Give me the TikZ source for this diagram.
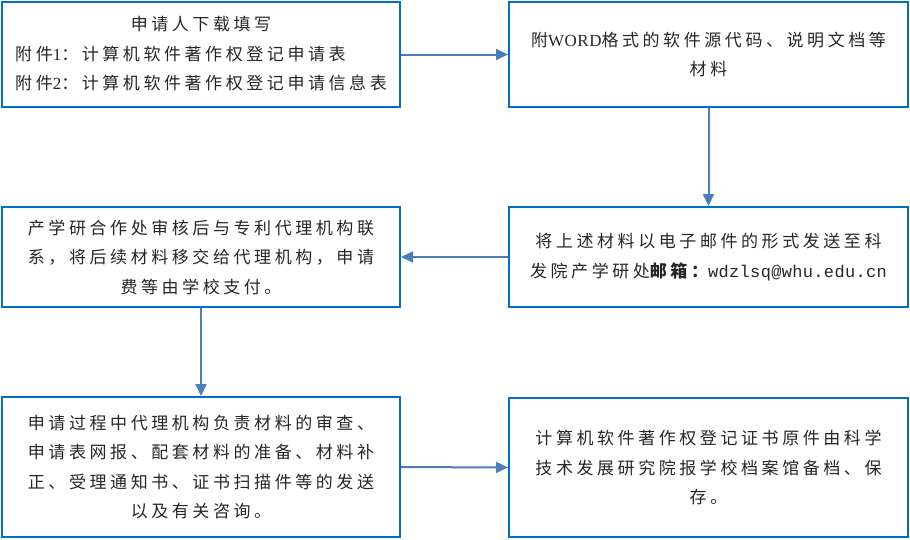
\documentclass[tikz,border=0pt]{standalone}
\usepackage{fontspec}
\setmainfont{Noto Sans CJK SC}[LetterSpace=21]
\newfontfamily\lat{Liberation Serif}[LetterSpace=3]
\newfontfamily\latm{Liberation Mono}[LetterSpace=2]
\usetikzlibrary{arrows.meta}
\definecolor{boxblue}{HTML}{0070C0}
\definecolor{arrowblue}{HTML}{4A7EBB}
\definecolor{txt}{HTML}{262626}
\begin{document}
\begin{tikzpicture}[x=1pt,y=-1pt,
  flowbox/.style={draw=boxblue,line width=2pt,rectangle,inner sep=0pt,
    align=center,text=txt,font=\fontsize{17}{29.5}\selectfont},
  flowarrow/.style={draw=arrowblue,line width=2pt,
    -{Triangle[length=12pt,width=11pt]}}]
\useasboundingbox (0,0) rectangle (910,539);
\node[flowbox,minimum width=398pt,minimum height=105pt] (b1) at (201,54.5)
  {\begin{tabular}{@{}l@{}}\multicolumn{1}{c}{申请人下载填写}\\
   附件{\lat 1}：计算机软件著作权登记申请表\\
   附件{\lat 2}：计算机软件著作权登记申请信息表\end{tabular}};
\node[flowbox,minimum width=399pt,minimum height=105pt] (b2) at (708.5,54.5)
  {附{\lat WORD}格式的软件源代码、说明文档等\\材料};
\node[flowbox,minimum width=398pt,minimum height=100pt] (b3) at (201,257)
  {产学研合作处审核后与专利代理机构联\\系，将后续材料移交给代理机构，申请\\费等由学校支付。};
\node[flowbox,minimum width=399pt,minimum height=100pt] (b4) at (708.5,257)
  {将上述材料以电子邮件的形式发送至科\\发院产学研处{\bfseries 邮箱：}{\latm wdzlsq@whu.edu.cn}};
\node[flowbox,minimum width=398pt,minimum height=140pt] (b5) at (201,467)
  {申请过程中代理机构负责材料的审查、\\申请表网报、配套材料的准备、材料补\\正、受理通知书、证书扫描件等的发送\\以及有关咨询。};
\node[flowbox,minimum width=399pt,minimum height=139pt] (b6) at (708.5,467.5)
  {计算机软件著作权登记证书原件由科学\\技术发展研究院报学校档案馆备档、保\\存。};
\draw[flowarrow] (b1.east) -- (b2.west);
\draw[flowarrow] (b2.south) -- (b4.north);
\draw[flowarrow] (b4.west) -- (b3.east);
\draw[flowarrow] (b3.south) -- (b5.north);
\draw[flowarrow] (b5.east) -- (b6.west);
\end{tikzpicture}
\end{document}
